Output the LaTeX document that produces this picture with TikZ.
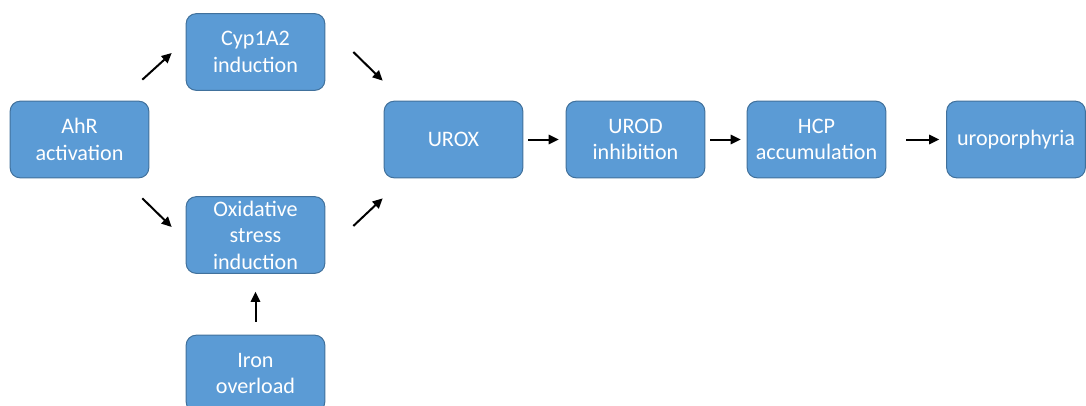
\documentclass[tikz,border=0pt]{standalone}
\usepackage{fontspec}
\setmainfont{Carlito}
\usepackage{xcolor}
\usetikzlibrary{arrows.meta, calc}
\definecolor{boxblue}{HTML}{5B9BD5}
\definecolor{boxedge}{HTML}{41719C}

\begin{document}
\begin{tikzpicture}[x=0.75pt, y=-0.75pt, >={Triangle[length=7.5pt, width=7pt]}, every node/.style={font=\fontsize{16.6}{19.8}\selectfont},
  pathbox/.style={draw=boxedge, line width=0.75pt, fill=boxblue, text=white, rounded corners=7.5pt, align=center, minimum width=104pt, minimum height=57.5pt, inner sep=0pt},
  flow/.style={->, line width=1.5pt}]
  \useasboundingbox (0,0) rectangle (1086,405);
  \node[pathbox] (ahr) at (79.5,139.5) {AhR\\activation};
  \node[pathbox] (cyp) at (255.5,52) {Cyp1A2\\induction};
  \node[pathbox] (oxstress) at (255.5,235) {Oxidative\\stress\\induction};
  \node[pathbox] (iron) at (255.5,373.5) {Iron\\overload};
  \node[pathbox] (urox) at (453.5,139.5) {UROX};
  \node[pathbox] (urod) at (635.5,139.5) {UROD\\inhibition};
  \node[pathbox] (hcp) at (816.5,139.5) {HCP\\accumulation};
  \node[pathbox] (uropor) at (1016,139.5) {uroporphyria};
  \draw[flow] ($(ahr.north east)+(-7,-21)$) -- ($(cyp.west)+(-14,1)$);
  \draw[flow] ($(ahr.south east)+(-7,20)$) -- ($(oxstress.west)+(-14,-8)$);
  \draw[flow] ($(cyp.east)+(28,0)$) -- ($(urox.north west)+(-1,-20)$);
  \draw[flow] ($(oxstress.east)+(28,-9)$) -- ($(urox.south west)+(-1,20)$);
  \draw[flow] ($(iron.north)+(0,-13)$) -- ($(oxstress.south)+(0,18)$);
  \draw[flow] ($(urox.east)+(5,0)$) -- ($(urod.west)+(-7,0)$);
  \draw[flow] ($(urod.east)+(5,0)$) -- ($(hcp.west)+(-6,0)$);
  \draw[flow] ($(hcp.east)+(20,0)$) -- ($(uropor.west)+(-7,0)$);
\end{tikzpicture}
\end{document}
